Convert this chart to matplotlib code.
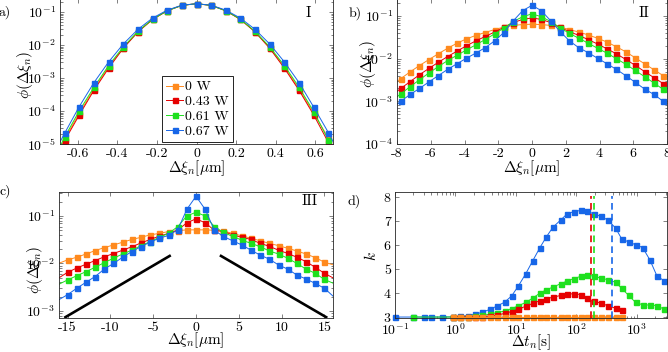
import numpy as np
import matplotlib
matplotlib.use('Agg')
import matplotlib.pyplot as plt
from matplotlib.ticker import FixedLocator, FuncFormatter, NullFormatter, LogLocator

plt.rcParams['font.family'] = ['cmr10']
plt.rcParams['mathtext.fontset'] = 'cm'
plt.rcParams['axes.unicode_minus'] = False
plt.rcParams['axes.formatter.use_mathtext'] = True

powers = ['0 W', '0.43 W', '0.61 W', '0.67 W']
colors = ['#FF8A1E', '#E60000', '#1EE01E', '#1766E8']

# ---------------- panel a (regime I) ----------------
xa = [-0.741, -0.667, -0.593, -0.519, -0.444, -0.370, -0.296, -0.222, -0.148, -0.074, 0.0,
      0.074, 0.148, 0.222, 0.296, 0.370, 0.444, 0.519, 0.593, 0.667, 0.741]
a_orange = [1.8e-6, 1.4e-5, 8.5e-5, 4.6e-4, 2.2e-3, 8.4e-3, 2.55e-2, 6.0e-2, 1.1e-1, 1.6e-1, 1.8e-1,
            1.6e-1, 1.1e-1, 6.0e-2, 2.55e-2, 8.4e-3, 2.2e-3, 4.6e-4, 8.5e-5, 1.5e-5, 1.8e-6]
a_red = [1.5e-6, 1.25e-5, 7.5e-5, 4.2e-4, 2.0e-3, 8.0e-3, 2.5e-2, 6.0e-2, 1.1e-1, 1.6e-1, 1.8e-1,
         1.6e-1, 1.1e-1, 6.0e-2, 2.5e-2, 8.0e-3, 2.0e-3, 4.2e-4, 7.5e-5, 1.1e-5, 1.5e-6]
a_green = [2.0e-6, 1.6e-5, 1.0e-4, 5.2e-4, 2.4e-3, 8.8e-3, 2.6e-2, 6.1e-2, 1.1e-1, 1.6e-1, 1.8e-1,
           1.6e-1, 1.1e-1, 6.1e-2, 2.6e-2, 8.8e-3, 2.4e-3, 5.2e-4, 9.5e-5, 1.3e-5, 2.0e-6]
a_blue = [3.0e-6, 2.1e-5, 1.35e-4, 7.2e-4, 3.1e-3, 1.08e-2, 3.0e-2, 6.6e-2, 1.15e-1, 1.62e-1, 1.8e-1,
          1.62e-1, 1.15e-1, 6.6e-2, 3.0e-2, 1.08e-2, 3.1e-3, 7.2e-4, 1.3e-4, 2.2e-5, 3.0e-6]

# ---------------- panel b (regime II) ----------------
xb = [-8.333, -7.778, -7.222, -6.667, -6.111, -5.556, -5.0, -4.444, -3.889, -3.333, -2.778, -2.222,
      -1.667, -1.111, -0.556, 0.0, 0.556, 1.111, 1.667, 2.222, 2.778, 3.333, 3.889, 4.444, 5.0,
      5.556, 6.111, 6.667, 7.222, 7.778, 8.333]
b_orange = [2.3e-3, 3.4e-3, 4.9e-3, 6.9e-3, 9.5e-3, 1.3e-2, 1.75e-2, 2.3e-2, 2.9e-2, 3.5e-2, 4.1e-2,
            4.8e-2, 5.5e-2, 6.0e-2, 6.3e-2, 6.4e-2, 6.3e-2, 6.0e-2, 5.5e-2, 4.8e-2, 4.2e-2, 3.6e-2,
            3.0e-2, 2.45e-2, 1.9e-2, 1.45e-2, 1.05e-2, 7.6e-3, 5.5e-3, 4.0e-3, 2.8e-3]
b_red = [1.35e-3, 2.0e-3, 2.9e-3, 4.2e-3, 5.9e-3, 8.2e-3, 1.12e-2, 1.5e-2, 2.0e-2, 2.6e-2, 3.3e-2,
         4.2e-2, 5.4e-2, 7.0e-2, 8.3e-2, 9.0e-2, 8.3e-2, 7.0e-2, 5.4e-2, 4.3e-2, 3.5e-2, 2.8e-2,
         2.2e-2, 1.7e-2, 1.3e-2, 9.6e-3, 7.0e-3, 5.0e-3, 3.6e-3, 2.6e-3, 1.8e-3]
b_green = [1.0e-3, 1.5e-3, 2.2e-3, 3.2e-3, 4.6e-3, 6.5e-3, 9.0e-3, 1.2e-2, 1.6e-2, 2.1e-2, 2.8e-2,
           3.8e-2, 5.2e-2, 7.4e-2, 9.6e-2, 1.12e-1, 9.6e-2, 7.4e-2, 5.3e-2, 3.9e-2, 3.0e-2, 2.3e-2,
           1.75e-2, 1.35e-2, 1.0e-2, 7.4e-3, 5.3e-3, 3.8e-3, 2.7e-3, 1.9e-3, 1.3e-3]
b_blue = [6.8e-4, 1.0e-3, 1.45e-3, 2.0e-3, 2.85e-3, 4.0e-3, 5.6e-3, 7.6e-3, 1.02e-2, 1.35e-2, 1.8e-2,
          2.6e-2, 4.1e-2, 7.7e-2, 1.33e-1, 1.78e-1, 1.33e-1, 7.7e-2, 4.3e-2, 2.6e-2, 1.8e-2, 1.38e-2,
          1.02e-2, 7.6e-3, 5.6e-3, 4.0e-3, 2.8e-3, 1.95e-3, 1.45e-3, 1.0e-3, 6.8e-4]

# ---------------- panel c (regime III) ----------------
xc = [-16.07, -15.0, -13.93, -12.86, -11.79, -10.71, -9.64, -8.57, -7.5, -6.43, -5.36, -4.29, -3.21,
      -2.14, -1.07, 0.0, 1.07, 2.14, 3.21, 4.29, 5.36, 6.43, 7.5, 8.57, 9.64, 10.71, 11.79, 12.86,
      13.93, 15.0, 16.07]
c_orange = [1.0e-2, 1.19e-2, 1.35e-2, 1.58e-2, 1.86e-2, 2.16e-2, 2.45e-2, 2.8e-2, 3.2e-2, 3.55e-2,
            4.0e-2, 4.3e-2, 4.7e-2, 4.9e-2, 5.1e-2, 5.1e-2, 5.1e-2, 5.0e-2, 4.8e-2, 4.3e-2, 3.8e-2,
            3.4e-2, 3.0e-2, 2.65e-2, 2.37e-2, 2.09e-2, 1.83e-2, 1.58e-2, 1.33e-2, 1.06e-2, 9.3e-3]
c_red = [4.9e-3, 6.5e-3, 8.0e-3, 9.6e-3, 1.15e-2, 1.38e-2, 1.62e-2, 1.9e-2, 2.25e-2, 2.7e-2, 3.2e-2,
         3.75e-2, 4.3e-2, 5.0e-2, 7.2e-2, 8.7e-2, 7.2e-2, 5.0e-2, 4.7e-2, 4.0e-2, 3.55e-2, 3.2e-2,
         2.65e-2, 2.3e-2, 1.9e-2, 1.63e-2, 1.35e-2, 1.09e-2, 8.3e-3, 6.2e-3, 4.9e-3]
c_green = [3.6e-3, 4.5e-3, 5.5e-3, 6.7e-3, 8.3e-3, 1.04e-2, 1.29e-2, 1.58e-2, 1.9e-2, 2.37e-2, 2.87e-2,
           3.55e-2, 4.3e-2, 5.95e-2, 1.0e-1, 1.2e-1, 1.0e-1, 6.0e-2, 4.5e-2, 3.7e-2, 3.1e-2, 2.65e-2,
           2.26e-2, 1.83e-2, 1.58e-2, 1.29e-2, 1.0e-2, 7.6e-3, 6.2e-3, 4.6e-3, 3.8e-3]
c_blue = [1.7e-3, 2.2e-3, 3.0e-3, 4.0e-3, 5.3e-3, 7.6e-3, 1.0e-2, 1.35e-2, 1.78e-2, 2.26e-2, 2.8e-2,
          3.4e-2, 3.9e-2, 5.1e-2, 1.38e-1, 2.6e-1, 1.38e-1, 5.0e-2, 3.7e-2, 3.0e-2, 2.45e-2, 1.9e-2,
          1.5e-2, 1.23e-2, 9.3e-3, 7.6e-3, 5.7e-3, 4.7e-3, 3.8e-3, 3.0e-3, 2.0e-3]
guide_left_x = [-15.25, -3.08]
guide_left_y = [7.4e-4, 1.44e-2]
guide_right_x = [2.92, 15.2]
guide_right_y = [1.44e-2, 7.4e-4]

# ---------------- panel d (kurtosis) ----------------
t_blue = [0.1, 0.2, 0.3, 0.4, 0.6, 0.9, 1.2, 1.6, 2.1, 2.8, 3.7, 4.8, 6.5, 8.5, 11, 14.5, 19, 25, 32,
          41, 55, 70, 90, 118, 150, 195, 260, 330, 445, 560, 735, 955, 1250, 1650, 2150, 2800]
k_blue = [3.0, 3.0, 3.0, 3.0, 3.0, 3.01, 3.03, 3.06, 3.12, 3.2, 3.32, 3.45, 3.62, 3.88, 4.3, 4.8,
          5.35, 5.9, 6.35, 6.75, 7.05, 7.3, 7.4, 7.45, 7.43, 7.3, 7.2, 7.05, 6.72, 6.27, 6.13, 6.02,
          5.9, 5.38, 4.72, 4.52]
t_green = [0.2, 0.9, 1.2, 1.6, 2.1, 2.8, 3.7, 4.8, 6.5, 8.5, 11, 14.5, 19, 25, 32, 41, 55, 70, 90,
           118, 150, 195, 260, 330, 445, 560, 735, 955, 1250, 1650, 2150, 2800]
k_green = [3.0, 3.0, 3.01, 3.02, 3.04, 3.07, 3.12, 3.18, 3.25, 3.35, 3.47, 3.61, 3.79, 4.0, 4.14,
           4.25, 4.39, 4.5, 4.6, 4.7, 4.76, 4.7, 4.62, 4.56, 4.45, 4.2, 3.9, 3.61, 3.51, 3.5, 3.48,
           3.33]
t_red = [0.9, 1.2, 1.6, 2.1, 2.8, 3.7, 4.8, 6.5, 8.5, 11, 14.5, 19, 25, 32, 41, 55, 70, 90, 118, 150,
         195, 260, 330, 445, 560]
k_red = [3.0, 3.0, 3.01, 3.01, 3.02, 3.04, 3.08, 3.15, 3.23, 3.33, 3.45, 3.57, 3.68, 3.76, 3.83,
         3.9, 3.96, 3.97, 3.94, 3.8, 3.65, 3.58, 3.47, 3.37, 3.3]
t_orange = [0.9, 1.2, 1.6, 2.1, 2.8, 3.7, 4.8, 6.5, 8.5, 11, 14.5, 19, 25, 32, 41, 55, 70, 90, 118,
            150, 195, 260, 330, 445, 560]
k_orange = [3.0] * len(t_orange)
t_cross = [178, 197, 390]
cross_colors = ['#E60000', '#1EE01E', '#1766E8']

# ---------------- figure ----------------
W, H = 668, 352
fig = plt.figure(figsize=(W / 100, H / 100), dpi=100)


def add_ax(l, t, r, b):
    return fig.add_axes([l / W, 1 - b / H, (r - l) / W, (b - t) / H])


def style(ax):
    ax.tick_params(which='both', direction='in', top=True, right=True, labelsize=10,
                   color='0.3', width=0.5, pad=3)
    ax.tick_params(which='major', length=3)
    ax.tick_params(which='minor', length=1.8)
    for s in ax.spines.values():
        s.set_linewidth(0.6)
        s.set_color('0.15')


plain = FuncFormatter(lambda v, p: ('%g' % v))
logfmt = FuncFormatter(lambda v, p: r'$10^{%d}$' % int(round(np.log10(v))))

MS = 3.6
LW = 0.7

axa = add_ax(60, -1, 333, 144)
axb = add_ax(397, -1, 667, 144)
axc = add_ax(59, 192, 333, 318)
axd = add_ax(395, 192, 667, 318)

for ax, x, series in [(axa, xa, [a_orange, a_red, a_green, a_blue]),
                      (axb, xb, [b_orange, b_red, b_green, b_blue]),
                      (axc, xc, [c_orange, c_red, c_green, c_blue])]:
    for y, c, lab in zip(series, colors, powers):
        ax.plot(x, y, '-', color=c, lw=LW, marker='s', ms=MS, mec=c, mfc=c,
                markevery=slice(1, len(x) - 1), label=lab)
    ax.set_yscale('log')
    style(ax)
    ax.yaxis.set_major_formatter(logfmt)
    ax.yaxis.set_minor_formatter(NullFormatter())
    ax.yaxis.set_minor_locator(LogLocator(base=10, subs=np.arange(2, 10)))
    ax.xaxis.set_major_formatter(plain)

axa.set_xlim(-0.69, 0.69)
axa.set_ylim(1e-5, 0.25)
axa.xaxis.set_major_locator(FixedLocator([-0.6, -0.4, -0.2, 0, 0.2, 0.4, 0.6]))
axa.yaxis.set_major_locator(FixedLocator([1e-5, 1e-4, 1e-3, 1e-2, 1e-1]))

axb.set_xlim(-8, 8)
axb.set_ylim(1e-4, 0.25)
axb.xaxis.set_major_locator(FixedLocator([-8, -6, -4, -2, 0, 2, 4, 6, 8]))
axb.yaxis.set_major_locator(FixedLocator([1e-4, 1e-3, 1e-2, 1e-1]))

axc.set_xlim(-16, 16)
axc.set_ylim(7.1e-4, 0.32)
axc.xaxis.set_major_locator(FixedLocator([-15, -10, -5, 0, 5, 10, 15]))
axc.yaxis.set_major_locator(FixedLocator([1e-3, 1e-2, 1e-1]))
axc.plot(guide_left_x, guide_left_y, '-', color='black', lw=1.9)
axc.plot(guide_right_x, guide_right_y, '-', color='black', lw=1.9)

# panel d
for t, k, c in [(t_blue, k_blue, colors[3]), (t_green, k_green, colors[2]),
                (t_red, k_red, colors[1]), (t_orange, k_orange, colors[0])]:
    axd.plot(t, k, '-', color=c, lw=LW, marker='s', ms=MS, mec=c, mfc=c, clip_on=False)
for tc, c in zip(t_cross, cross_colors):
    axd.plot([tc, tc], [2.96, 8.05], '--', color=c, lw=1.2, dashes=(4, 2.5), zorder=5)
axd.set_xscale('log')
axd.set_xlim(0.1, 3160)
axd.set_ylim(2.96, 8.22)
style(axd)
axd.xaxis.set_major_locator(FixedLocator([0.1, 1, 10, 100, 1000]))
axd.xaxis.set_major_formatter(logfmt)
axd.xaxis.set_minor_locator(LogLocator(base=10, subs=np.arange(2, 10)))
axd.xaxis.set_minor_formatter(NullFormatter())
axd.yaxis.set_major_locator(FixedLocator([3, 4, 5, 6, 7, 8]))
axd.yaxis.set_major_formatter(plain)

# labels
xi_label = r'$\Delta\xi_n[\mu\mathrm{m}]$'
phi_label = r'$\phi(\Delta\xi_n)$'
for ax, ylx, yly, xly in [(axa, -0.13, 0.48, -0.165), (axb, -0.107, 0.55, -0.165),
                          (axc, -0.088, 0.38, -0.18)]:
    ax.set_xlabel(xi_label, fontsize=11)
    ax.set_ylabel(phi_label, fontsize=11)
    ax.yaxis.label.set_verticalalignment('center')
    ax.yaxis.set_label_coords(ylx, yly)
    ax.xaxis.label.set_verticalalignment('center')
    ax.xaxis.set_label_coords(0.5, xly)
axd.set_xlabel(r'$\Delta t_n[\mathrm{s}]$', fontsize=11)
axd.set_ylabel(r'$k$', fontsize=11)
axd.yaxis.label.set_verticalalignment('center')
axd.yaxis.set_label_coords(-0.088, 0.49)
axd.xaxis.label.set_verticalalignment('center')
axd.xaxis.set_label_coords(0.5, -0.195)

leg = axa.legend(loc='lower left', bbox_to_anchor=(0.374, 0.014), fontsize=10, frameon=True,
                 fancybox=False, edgecolor='black', framealpha=1, borderpad=0.3,
                 handlelength=1.2, handletextpad=0.15, labelspacing=0.15, borderaxespad=0)
leg.get_frame().set_linewidth(0.6)

# roman numerals and panel letters
fig.text(308 / W, 1 - 13 / H, 'I', fontsize=11, ha='center', va='center')
fig.text(644 / W, 1 - 13 / H, 'II', fontsize=11, ha='center', va='center')
fig.text(310 / W, 1 - 201 / H, 'III', fontsize=11, ha='center', va='center')
fig.text(5 / W, 1 - 12 / H, 'a)', fontsize=10, ha='center', va='center')
fig.text(355 / W, 1 - 13 / H, 'b)', fontsize=10, ha='center', va='center')
fig.text(5 / W, 1 - 191 / H, 'c)', fontsize=10, ha='center', va='center')
fig.text(354 / W, 1 - 201 / H, 'd)', fontsize=10, ha='center', va='center')

fig.savefig('out.png', dpi=100)
